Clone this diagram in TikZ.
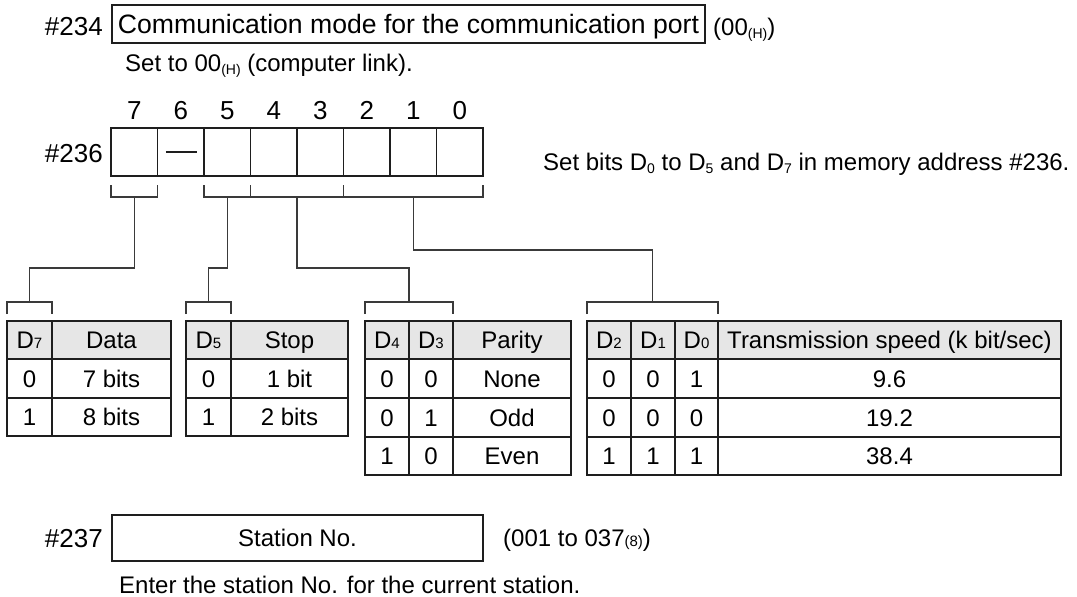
\documentclass[tikz,border=0pt]{standalone}
\usepackage{fontspec}
\setmainfont{Liberation Sans}
\usetikzlibrary{calc,positioning}
\definecolor{rule}{HTML}{1E1E1E}
\definecolor{wirec}{HTML}{3A3A3A}
\definecolor{headfill}{HTML}{E6E6E6}
\newcommand{\sm}[1]{{\fontsize{15}{15}\selectfont #1}}
\newcommand{\lo}[1]{\raisebox{-3pt}{\fontsize{14}{14}\selectfont #1}}

\begin{document}
\begin{tikzpicture}[x=1pt,y=-1pt,
    lbl/.style={font=\fontsize{24}{28}\selectfont,inner sep=0pt,text height=17.2pt,text depth=0pt},
    big/.style={font=\fontsize{26}{30}\selectfont,inner sep=0pt,text height=18.6pt,text depth=0pt},
    bitcell/.style={draw=rule,line width=1.6pt,outer sep=0pt,inner sep=0pt,minimum width=46.5pt,minimum height=48pt},
    wire/.style={draw=wirec,line width=1.3pt},
    tabframe/.style={draw=rule,line width=2.8pt},
    tabsplit/.style={draw=rule,line width=2.2pt},
    tabline/.style={draw=rule,line width=1.2pt}]
    \useasboundingbox (0,0) rectangle (1077,597);

    % #234
    \node[big,font=\fontsize{26.6}{30}\selectfont,text height=19pt,draw=rule,line width=1.3pt,minimum width=593pt,minimum height=38pt] (mode) at (408.5,24) {Communication mode for the communication port};
    \node[big,anchor=east] (a234) at (103,26) {\#234};
    \node[lbl,anchor=west] (v234) at (713,27) {(00\lo{(H)})};
    \node[lbl,anchor=west] (s234) at (125,63) {Set to 00\lo{(H)} (computer link).};

    % #236
    \node[bitcell] (b7) at (134.25,152) {};
    \node[bitcell] (b6) at (180.75,152) {};
    \node[bitcell] (b5) at (227.25,152) {};
    \node[bitcell] (b4) at (273.75,152) {};
    \node[bitcell] (b3) at (320.25,152) {};
    \node[bitcell] (b2) at (366.75,152) {};
    \node[bitcell] (b1) at (413.25,152) {};
    \node[bitcell] (b0) at (459.75,152) {};
    \draw[rule,line width=1.3pt] ($(b6.center)+(-15,0)$) -- ($(b6.center)+(16,0)$);

    \node[big] (n7) at (134.25,110) {7};
    \node[big] (n6) at (180.75,110) {6};
    \node[big] (n5) at (227.25,110) {5};
    \node[big] (n4) at (273.75,110) {4};
    \node[big] (n3) at (320.25,110) {3};
    \node[big] (n2) at (366.75,110) {2};
    \node[big] (n1) at (413.25,110) {1};
    \node[big] (n0) at (459.75,110) {0};

    \node[big,anchor=east] (a236) at (103,153) {\#236};
    \node[lbl,anchor=west] (s236) at (543,162) {Set bits D\lo{0} to D\lo{5} and D\lo{7} in memory address \#236.};

    % brackets under the bits
    \draw[wire] ([yshift=-9pt]b7.south west) -- ([yshift=-21pt]b7.south west) -- ([yshift=-21pt]b7.south east) -- ([yshift=-9pt]b7.south east);
    \draw[wire] ([yshift=-9pt]b5.south west) -- ([yshift=-21pt]b5.south west) -- ([yshift=-21pt]b0.south east) -- ([yshift=-9pt]b0.south east);
    \draw[wire] ([yshift=-9pt]b4.south west) -- ([yshift=-21pt]b4.south west);
    \draw[wire] ([yshift=-9pt]b2.south west) -- ([yshift=-21pt]b2.south west);
    \coordinate (u1) at ([yshift=-21pt]b7.south);
    \coordinate (u2) at ([yshift=-21pt]b5.south);
    \coordinate (u3) at ([yshift=-21pt]b4.south east);
    \coordinate (u4) at ([yshift=-21pt]b1.south);

    % brackets over the tables
    \coordinate (l1) at (29.5,302);
    \coordinate (l2) at (208.5,302);
    \coordinate (l3) at (409,302);
    \coordinate (l4) at (652.5,302);
    \draw[wire] ($(l1)+(-22.5,12)$) -- ++(0,-12) -- ++(45,0) -- ++(0,12);
    \draw[wire] ($(l2)+(-22.5,12)$) -- ++(0,-12) -- ++(45,0) -- ++(0,12);
    \draw[wire] ($(l3)+(-44,12)$) -- ++(0,-12) -- ++(88,0) -- ++(0,12);
    \draw[wire] ($(l4)+(-65.5,12)$) -- ++(0,-12) -- ++(131,0) -- ++(0,12);

    \draw[wire] (u1) -- ++(0,71) -| (l1);
    \draw[wire] (u2) -- ++(0,71) -| (l2);
    \draw[wire] (u3) -- ++(0,71) -| (l3);
    \draw[wire] (u4) -- ++(0,53) -| (l4);

    % Data
    \fill[headfill] (7,321) rectangle (171,359);
    \draw[tabline] (7,398) -- (171,398);
    \draw[tabsplit] (7,359) -- (171,359) (52,321) -- (52,436);
    \draw[tabframe] (7,321) rectangle (171,436);
    \node[lbl] (d7) at (29.5,340) {D\sm{7}};
    \node[lbl] (data) at (111.5,340) {Data};
    \node[lbl] (d7a) at (29.5,378.5) {0};
    \node[lbl] (data1) at (111.5,378.5) {7 bits};
    \node[lbl] (d7b) at (29.5,417) {1};
    \node[lbl] (data2) at (111.5,417) {8 bits};

    % Stop
    \fill[headfill] (186,321) rectangle (348,359);
    \draw[tabline] (186,398) -- (348,398);
    \draw[tabsplit] (186,359) -- (348,359) (231,321) -- (231,436);
    \draw[tabframe] (186,321) rectangle (348,436);
    \node[lbl] (d5) at (208.5,340) {D\sm{5}};
    \node[lbl] (stop) at (289.5,340) {Stop};
    \node[lbl] (d5a) at (208.5,378.5) {0};
    \node[lbl] (stop1) at (289.5,378.5) {1 bit};
    \node[lbl] (d5b) at (208.5,417) {1};
    \node[lbl] (stop2) at (289.5,417) {2 bits};

    % Parity
    \fill[headfill] (365,321) rectangle (571,359);
    \draw[tabline] (365,398) -- (571,398) (365,437) -- (571,437) (409,321) -- (409,475);
    \draw[tabsplit] (365,359) -- (571,359) (453,321) -- (453,475);
    \draw[tabframe] (365,321) rectangle (571,475);
    \node[lbl] (d4) at (387,340) {D\sm{4}};
    \node[lbl] (d3) at (431,340) {D\sm{3}};
    \node[lbl] (par) at (512,340) {Parity};
    \node[lbl] (d4a) at (387,378.5) {0};
    \node[lbl] (d3a) at (431,378.5) {0};
    \node[lbl] (par1) at (512,378.5) {None};
    \node[lbl] (d4b) at (387,417.5) {0};
    \node[lbl] (d3b) at (431,417.5) {1};
    \node[lbl] (par2) at (512,417.5) {Odd};
    \node[lbl] (d4c) at (387,456) {1};
    \node[lbl] (d3c) at (431,456) {0};
    \node[lbl] (par3) at (512,456) {Even};

    % Transmission speed
    \fill[headfill] (587,321) rectangle (1061,359);
    \draw[tabline] (587,398) -- (1061,398) (587,437) -- (1061,437) (631,321) -- (631,475) (675,321) -- (675,475);
    \draw[tabsplit] (587,359) -- (1061,359) (718,321) -- (718,475);
    \draw[tabframe] (587,321) rectangle (1061,475);
    \node[lbl] (d2) at (609,340) {D\sm{2}};
    \node[lbl] (d1) at (653,340) {D\sm{1}};
    \node[lbl] (d0) at (696.5,340) {D\sm{0}};
    \node[lbl] (spd) at (889.5,340) {Transmission speed (k bit/sec)};
    \node[lbl] (d2a) at (609,378.5) {0};
    \node[lbl] (d1a) at (653,378.5) {0};
    \node[lbl] (d0a) at (696.5,378.5) {1};
    \node[lbl] (spd1) at (889.5,378.5) {9.6};
    \node[lbl] (d2b) at (609,417.5) {0};
    \node[lbl] (d1b) at (653,417.5) {0};
    \node[lbl] (d0b) at (696.5,417.5) {0};
    \node[lbl] (spd2) at (889.5,417.5) {19.2};
    \node[lbl] (d2c) at (609,456) {1};
    \node[lbl] (d1c) at (653,456) {1};
    \node[lbl] (d0c) at (696.5,456) {1};
    \node[lbl] (spd3) at (889.5,456) {38.4};

    % #237
    \node[lbl,draw=rule,line width=1.6pt,minimum width=371pt,minimum height=46pt] (station) at (297.5,538) {Station No.};
    \node[big,anchor=east] (a237) at (103,538) {\#237};
    \node[lbl,anchor=west] (v237) at (503,538) {(001 to 037\sm{(8)})};
    \node[lbl,anchor=west] (s237) at (119,585) {Enter the station No. for the current station.};
  \end{tikzpicture}
\end{document}
